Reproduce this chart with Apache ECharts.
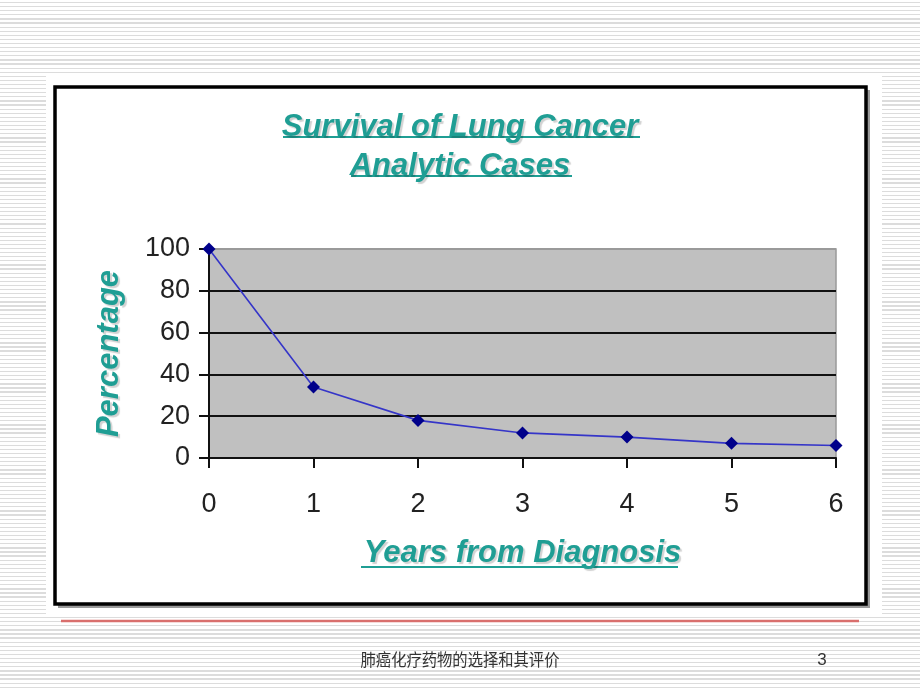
<!DOCTYPE html>
<html><head><meta charset="utf-8">
<script src="https://cdn.jsdelivr.net/npm/echarts@6/dist/echarts.min.js"></script>
<style>
html,body{margin:0;padding:0;}
body{width:920px;height:690px;background:repeating-linear-gradient(to bottom,#ffffff 0px,#ffffff 2px,#dcdcdc 2px,#dcdcdc 3.2px,#ffffff 3.2px,#ffffff 4.1px);}
#c{width:920px;height:690px;}
</style></head>
<body><div id="c"></div>
<script>
const years = ['0','1','2','3','4','5','6'];
const survival = [100, 34, 18, 12, 10, 7, 6];
const titleLines = ['Survival of Lung Cancer', 'Analytic Cases'];
const yName = 'Percentage';
const xName = 'Years from Diagnosis';
const footer = '肺癌化疗药物的选择和其评价';
const pageNo = '3';

const teal = '#1f9e94';
const tealText = {fontFamily:'Liberation Sans, Arial, sans-serif', fontStyle:'italic', fontWeight:'bold', color:teal,
  textShadowColor:'rgba(0,0,0,0.18)', textShadowOffsetX:2, textShadowOffsetY:2, textShadowBlur:1};

const chart = echarts.init(document.getElementById('c'), null, {renderer:'canvas'});
chart.setOption({
  backgroundColor:'transparent',
  animation:false,
  title:{
    text: titleLines.join('\n'), left:'center', top:103,
    textStyle:Object.assign({fontSize:31, lineHeight:39}, tealText)
  },
  graphic:[
    {type:'rect', z:-10, shape:{x:46, y:74, width:836, height:543}, style:{fill:'#ffffff'}},
    {type:'rect', z:-9, shape:{x:58, y:90, width:812, height:518}, style:{fill:'#9a9a9a'}},
    {type:'rect', z:-8, shape:{x:55, y:87, width:811, height:517}, style:{fill:'#ffffff', stroke:'#000', lineWidth:3.5}},
    {type:'line', shape:{x1:283, y1:137, x2:640, y2:137}, style:{stroke:teal, lineWidth:2}},
    {type:'line', shape:{x1:351, y1:176, x2:572, y2:176}, style:{stroke:teal, lineWidth:2}},
    {type:'line', shape:{x1:361, y1:567, x2:678, y2:567}, style:{stroke:teal, lineWidth:2}},
    {type:'line', shape:{x1:61, y1:621, x2:859, y2:621}, style:{stroke:'#d96f6d', lineWidth:2.5}},
    {type:'text', x:460, y:660, scaleX:0.9, originX:0, originY:0,
      style:{text:footer, font:'17px "Noto Sans CJK SC", sans-serif', fill:'#333', align:'center', verticalAlign:'middle'}},
    {type:'text', x:822, y:660, style:{text:pageNo, font:'17px "Liberation Sans", Arial, sans-serif', fill:'#333', align:'center', verticalAlign:'middle'}}
  ],
  grid:{left:209, right:84, top:249, bottom:232, show:true, backgroundColor:'#c0c0c0', borderColor:'#999', borderWidth:1.5},
  xAxis:{
    type:'category', data:years, boundaryGap:false,
    name:xName, nameLocation:'middle', nameGap:80,
    nameTextStyle:Object.assign({fontSize:31}, tealText),
    axisLine:{show:true, lineStyle:{color:'#111', width:2}},
    axisTick:{show:true, inside:false, length:10, alignWithLabel:true, lineStyle:{color:'#111', width:2}},
    axisLabel:{fontSize:27, color:'#222', margin:33, fontFamily:'Liberation Sans, Arial, sans-serif'},
    splitLine:{show:false}
  },
  yAxis:{
    type:'value', min:0, max:100, interval:20,
    name:yName, nameLocation:'middle', nameGap:84, nameRotate:90,
    nameTextStyle:Object.assign({fontSize:31}, tealText),
    axisLine:{show:true, lineStyle:{color:'#111', width:2}},
    axisTick:{show:true, length:10, lineStyle:{color:'#111', width:2}},
    axisLabel:{fontSize:27, color:'#222', margin:19, fontFamily:'Liberation Sans, Arial, sans-serif'},
    splitLine:{show:true, lineStyle:{color:['#111','#111','#111','#111','#111','#9a9a9a'], width:2}}
  },
  series:[{
    type:'line', data:survival, symbol:'diamond', symbolSize:13,
    lineStyle:{color:'#3535c8', width:1.6},
    itemStyle:{color:'#00008a'}
  }]
});
</script></body></html>
